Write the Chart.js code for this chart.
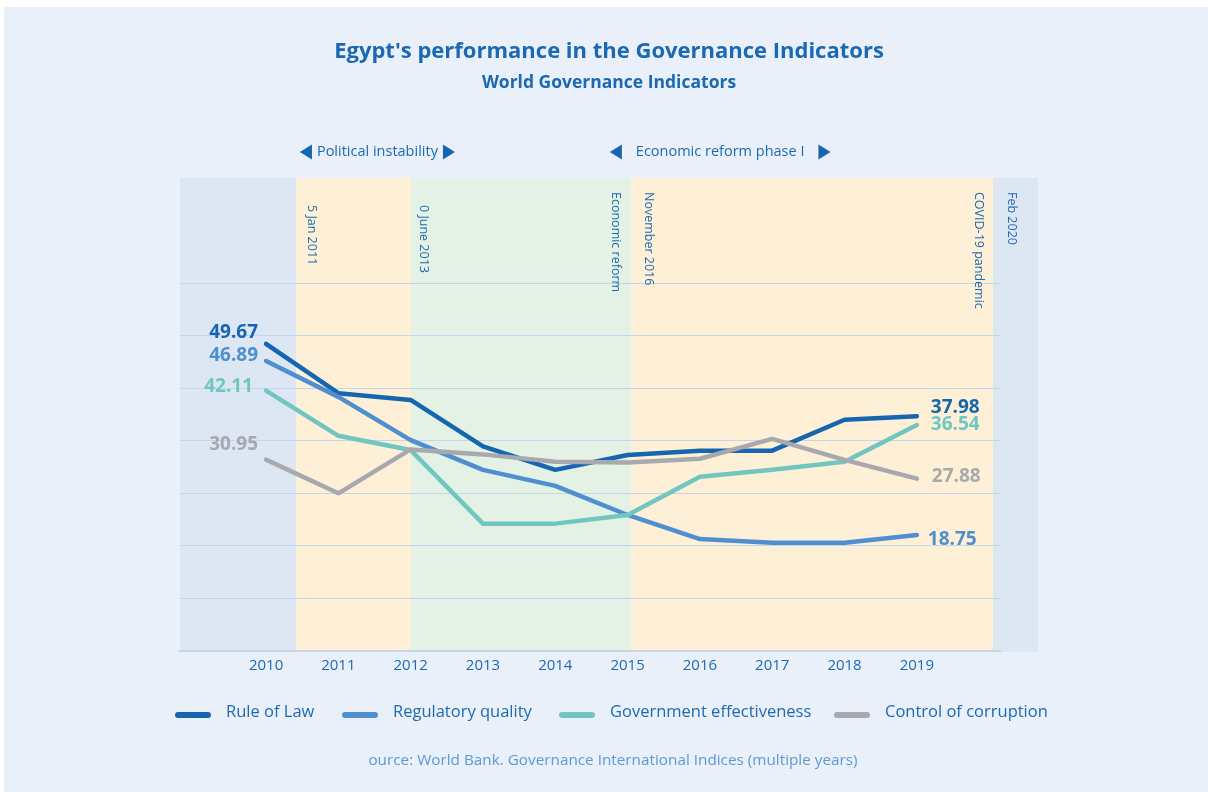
<!DOCTYPE html>
<html>
<head>
<meta charset="utf-8">
<title>Egypt - Governance Indicators</title>
<script src="https://cdn.jsdelivr.net/npm/chart.js@4.4.1/dist/chart.umd.min.js"></script>
<style>
  html, body { margin: 0; padding: 0; background: #fff; }
  #wrap { width: 1208px; height: 792px; }
</style>
</head>
<body>
<div id="wrap"><canvas id="wgi" width="1208" height="792"></canvas></div>
<script>
// ─── Données ──────────────────────────────
const years = [2010, 2011, 2012, 2013, 2014, 2015, 2016, 2017, 2018, 2019];
const ruleOfLaw         = [49.67, 41.7, 40.6, 33.1, 29.3, 31.7, 32.4, 32.4, 37.4, 37.98];
const regulatoryQuality = [46.89, 41.1, 34.1, 29.3, 26.7, 22.0, 18.1, 17.5, 17.5, 18.75];
const govEffectiveness  = [42.11, 34.8, 32.5, 20.6, 20.6, 22.0, 28.2, 29.3, 30.6, 36.54];
const controlCorruption = [30.95, 25.5, 32.6, 31.8, 30.6, 30.5, 31.1, 34.3, 30.9, 27.88];
const seriesNames = ['Rule of Law', 'Regulatory quality', 'Government effectiveness', 'Control of corruption'];

// périodes (bornes en années) et événements
const periodBounds = [2008.81, 2010.42, 2012.0, 2015.05, 2020.05, 2020.67];
const eventLabels  = ['5 Jan 2011', '0 June 2013', 'Economic reform', 'November 2016', 'COVID-19 pandemic', 'Feb 2020'];
const eventDates   = [2010.42, 2012.0, 2015.05, 2015.05, 2020.05, 2020.05];
const phaseLabels  = ['Political instability', 'Economic reform phase I'];
const phaseCenters = [2011.54, 2016.28];

const titleText    = "Egypt's performance in the Governance Indicators";
const subtitleText = 'World Governance Indicators';
const sourceText   = 'ource: World Bank. Governance International Indices (multiple years)';

// ─── Styles ───────────────────────────────
const FONT = '"Open Sans", sans-serif';
const TXT = '#1d6ab3';
const palette = ['#1565b0', '#4f8fd0', '#72c6c1', '#a8a9ae'];
const bandColors = ['#dde7f4', '#fef0d7', '#e3f2e4', '#fef0d7', '#dde7f4'];

// ─── Fond du panneau + bandes ─────────────
const backdrop = {
  id: 'backdrop',
  beforeDraw(chart) {
    const { ctx, chartArea: a, scales: { x } } = chart;
    ctx.save();
    ctx.fillStyle = '#fff';
    ctx.fillRect(0, 0, chart.width, chart.height);
    ctx.fillStyle = '#e9f0f9';
    ctx.fillRect(4, 7, chart.width - 4, chart.height - 7);
    for (let i = 0; i < periodBounds.length - 1; i++) {
      const x0 = Math.round(x.getPixelForValue(periodBounds[i]));
      const x1 = Math.round(x.getPixelForValue(periodBounds[i + 1]));
      ctx.fillStyle = bandColors[i];
      ctx.fillRect(x0, a.top, x1 - x0, a.bottom - a.top + 1);
    }
    ctx.restore();
  }
};

// ─── Étiquettes verticales des événements ─
const eventMarks = {
  id: 'eventMarks',
  beforeDatasetsDraw(chart, args, opts) {
    const { ctx, scales: { x } } = chart;
    ctx.save();
    ctx.fillStyle = TXT;
    ctx.font = `12.5px ${FONT}`;
    ctx.textAlign = 'left';
    ctx.textBaseline = 'middle';
    eventLabels.forEach((txt, i) => {
      const [dx, top] = opts.offsets[i];
      ctx.save();
      ctx.translate(x.getPixelForValue(eventDates[i]) + dx, top);
      ctx.rotate(Math.PI / 2);
      ctx.fillText(txt, 0, 0);
      ctx.restore();
    });
    ctx.restore();
  }
};

// ─── Titres, phases, source ───────────────
function triangle(ctx, x, y, dir) {
  ctx.beginPath();
  ctx.moveTo(x, y - 7.5);
  ctx.lineTo(x + dir * 12, y);
  ctx.lineTo(x, y + 7.5);
  ctx.closePath();
  ctx.fill();
}

const headerText = {
  id: 'headerText',
  afterDraw(chart, args, opts) {
    const { ctx, scales: { x } } = chart;
    const cx = 609;
    ctx.save();
    ctx.textAlign = 'center';
    ctx.textBaseline = 'middle';
    ctx.fillStyle = '#1a69b2';
    ctx.font = `bold 22px ${FONT}`;
    ctx.fillText(titleText, cx, 52);
    ctx.font = `bold 17.5px ${FONT}`;
    ctx.fillText(subtitleText, cx, 83);

    // phases au-dessus du graphique
    ctx.font = `14.5px ${FONT}`;
    ctx.fillStyle = TXT;
    phaseLabels.forEach((txt, i) => {
      const px = x.getPixelForValue(phaseCenters[i]);
      const w = ctx.measureText(txt).width;
      const gap = opts.arrowGaps[i];
      ctx.fillText(txt, px, 152);
      ctx.fillStyle = '#1565b0';
      triangle(ctx, px - w / 2 - gap, 152, -1);
      triangle(ctx, px + w / 2 + gap, 152, 1);
      ctx.fillStyle = TXT;
    });

    ctx.fillStyle = '#5a9ad6';
    ctx.font = `15.3px ${FONT}`;
    ctx.fillText(sourceText, 613, 761);
    ctx.restore();
  }
};

// ─── Valeurs en début et fin de courbe ────
const endLabels = {
  id: 'endLabels',
  afterDatasetsDraw(chart, args, opts) {
    const { ctx } = chart;
    ctx.save();
    ctx.font = `bold 19px ${FONT}`;
    ctx.textBaseline = 'middle';
    chart.data.datasets.forEach((ds, i) => {
      const pts = chart.getDatasetMeta(i).data;
      const first = pts[0], last = pts[pts.length - 1];
      ctx.fillStyle = ds.borderColor;
      const [lx, ly] = opts.first[i];
      ctx.textAlign = 'right';
      ctx.fillText(ds.data[0].y.toFixed(2), first.x + lx, first.y + ly);
      const [rx, ry] = opts.last[i];
      ctx.textAlign = 'left';
      ctx.fillText(ds.data[ds.data.length - 1].y.toFixed(2), last.x + rx, last.y + ry);
    });
    ctx.restore();
  }
};

// ─── Légende en ligne ─────────────────────
const legendRow = {
  id: 'legendRow',
  afterDraw(chart, args, opts) {
    const { ctx } = chart;
    ctx.save();
    ctx.font = `16.5px ${FONT}`;
    ctx.textAlign = 'left';
    ctx.textBaseline = 'middle';
    seriesNames.forEach((name, i) => {
      const x0 = opts.starts[i];
      ctx.strokeStyle = palette[i];
      ctx.lineWidth = 6;
      ctx.lineCap = 'round';
      ctx.beginPath();
      ctx.moveTo(x0 + 3, 715);
      ctx.lineTo(x0 + 33, 715);
      ctx.stroke();
      ctx.fillStyle = TXT;
      ctx.fillText(name, x0 + 51, 712);
    });
    ctx.restore();
  }
};

const allSeries = [ruleOfLaw, regulatoryQuality, govEffectiveness, controlCorruption];
const drawOrder = [3, 2, 1, 0];

new Chart(document.getElementById('wgi'), {
  type: 'line',
  data: {
    datasets: allSeries.map((vals, i) => ({
      label: seriesNames[i],
      data: vals.map((v, j) => ({ x: years[j], y: v })),
      borderColor: palette[i],
      borderWidth: 4.5,
      borderCapStyle: 'round',
      borderJoinStyle: 'round',
      pointRadius: 0,
      tension: 0,
      order: drawOrder[i]
    }))
  },
  options: {
    responsive: false,
    animation: false,
    devicePixelRatio: 1,
    layout: { padding: { left: 180, right: 208, top: 178, bottom: 111 } },
    plugins: {
      legend: { display: false },
      tooltip: { enabled: false },
      eventMarks: { offsets: [[15, 205], [13, 205], [-16, 192], [17, 192], [-14, 192], [19, 192]] },
      headerText: { arrowGaps: [5, 14] },
      endLabels: {
        first: [[-8, -11], [-8, -5], [-13, -4], [-8, -15]],
        last:  [[14, -9], [11, 5], [14, 0], [15, -2]]
      },
      legendRow: { starts: [175, 342, 559, 834] }
    },
    scales: {
      x: {
        type: 'linear',
        min: 2008.81,
        max: 2020.15,
        afterBuildTicks: s => { s.ticks = years.map(v => ({ value: v })); },
        grid: { display: false, drawTicks: false },
        border: { display: true, color: '#c8d3e4', width: 2 },
        ticks: {
          color: TXT,
          font: { family: FONT, size: 15 },
          padding: 6,
          autoSkip: false,
          maxRotation: 0,
          callback: v => String(v)
        }
      },
      y: {
        min: 0,
        max: 76.5,
        ticks: { display: false, stepSize: 8.5 },
        grid: {
          drawTicks: false,
          lineWidth: 1,
          color: c => (c.tick.value > 1 && c.tick.value < 60) ? '#c4d5ee' : 'transparent'
        },
        border: { display: false }
      }
    }
  },
  plugins: [backdrop, eventMarks, endLabels, headerText, legendRow]
});
</script>
</body>
</html>
